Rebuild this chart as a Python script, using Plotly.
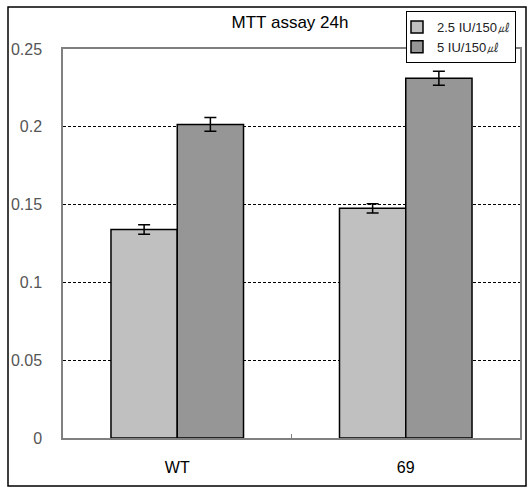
import plotly.graph_objects as go

categories = ["WT", "69"]
series_names = ["2.5 IU/150㎕", "5 IU/150㎕"]
low_dose = [0.134, 0.1476]
low_err = [0.003, 0.003]
high_dose = [0.2015, 0.2312]
high_err = [0.0044, 0.0045]
colors = ["#C0C0C0", "#969696"]
ytick_vals = [0, 0.05, 0.1, 0.15, 0.2, 0.25]
ytick_text = ["0", "0.05", "0.1", "0.15", "0.2", "0.25"]

L, R, T, B = 63, 520, 49, 438
W, H = 528, 490
pw, ph = R - L, B - T

def px(x):
    return (x - L) / pw

def py(y):
    return (B - y) / ph

fig = go.Figure()
for name, vals, errs, col in [(series_names[0], low_dose, low_err, colors[0]),
                              (series_names[1], high_dose, high_err, colors[1])]:
    fig.add_trace(go.Bar(
        x=categories, y=vals, name=name,
        marker=dict(color=col, line=dict(color="black", width=1.5)),
        error_y=dict(type="data", array=errs, visible=True, color="black",
                     thickness=1.5, width=6),
    ))

fig.update_layout(
    width=W, height=H,
    margin=dict(l=L, r=W - R, t=T, b=H - B, autoexpand=False),
    barmode="group", bargap=0.42, bargroupgap=0,
    paper_bgcolor="white", plot_bgcolor="white",
    font=dict(family="Liberation Sans, Arial, sans-serif", color="black"),
    title=dict(text="MTT assay 24h", x=px(290), xref="paper", xanchor="center",
               y=1 - 22 / H, yref="container", yanchor="middle",
               font=dict(size=17, color="black")),
    showlegend=True,
    legend=dict(x=px(406), y=py(11), xanchor="left", yanchor="top",
                bordercolor="black", borderwidth=1, bgcolor="white",
                font=dict(size=13, color="#222222"),
                tracegroupgap=0, itemwidth=30, entrywidth=70,
                indentation=-10),
    xaxis=dict(showline=True, linecolor="#808080", linewidth=1.5, mirror=True,
               ticks="inside", tickson="boundaries", ticklen=4, tickcolor="#808080",
               tickfont=dict(size=16, color="black"), ticklabelstandoff=14,
               showgrid=False, automargin=False),
    yaxis=dict(range=[0, 0.25], tickvals=ytick_vals, ticktext=ytick_text,
               showline=True, linecolor="#808080", linewidth=1.5, mirror=True,
               showgrid=True, gridcolor="black", gridwidth=1, griddash="3px,2px",
               zeroline=False, ticks="", ticklabelstandoff=16, automargin=False,
               tickfont=dict(size=16, color="#555555")),
    shapes=[dict(type="rect", xref="paper", yref="paper",
                 x0=px(8), x1=px(526), y0=py(486), y1=py(7),
                 line=dict(color="black", width=1.5), layer="below")],
)

fig.write_html("out.html", config={"displayModeBar": False},
               post_script="document.body.style.margin='0';document.body.style.overflow='hidden';")
